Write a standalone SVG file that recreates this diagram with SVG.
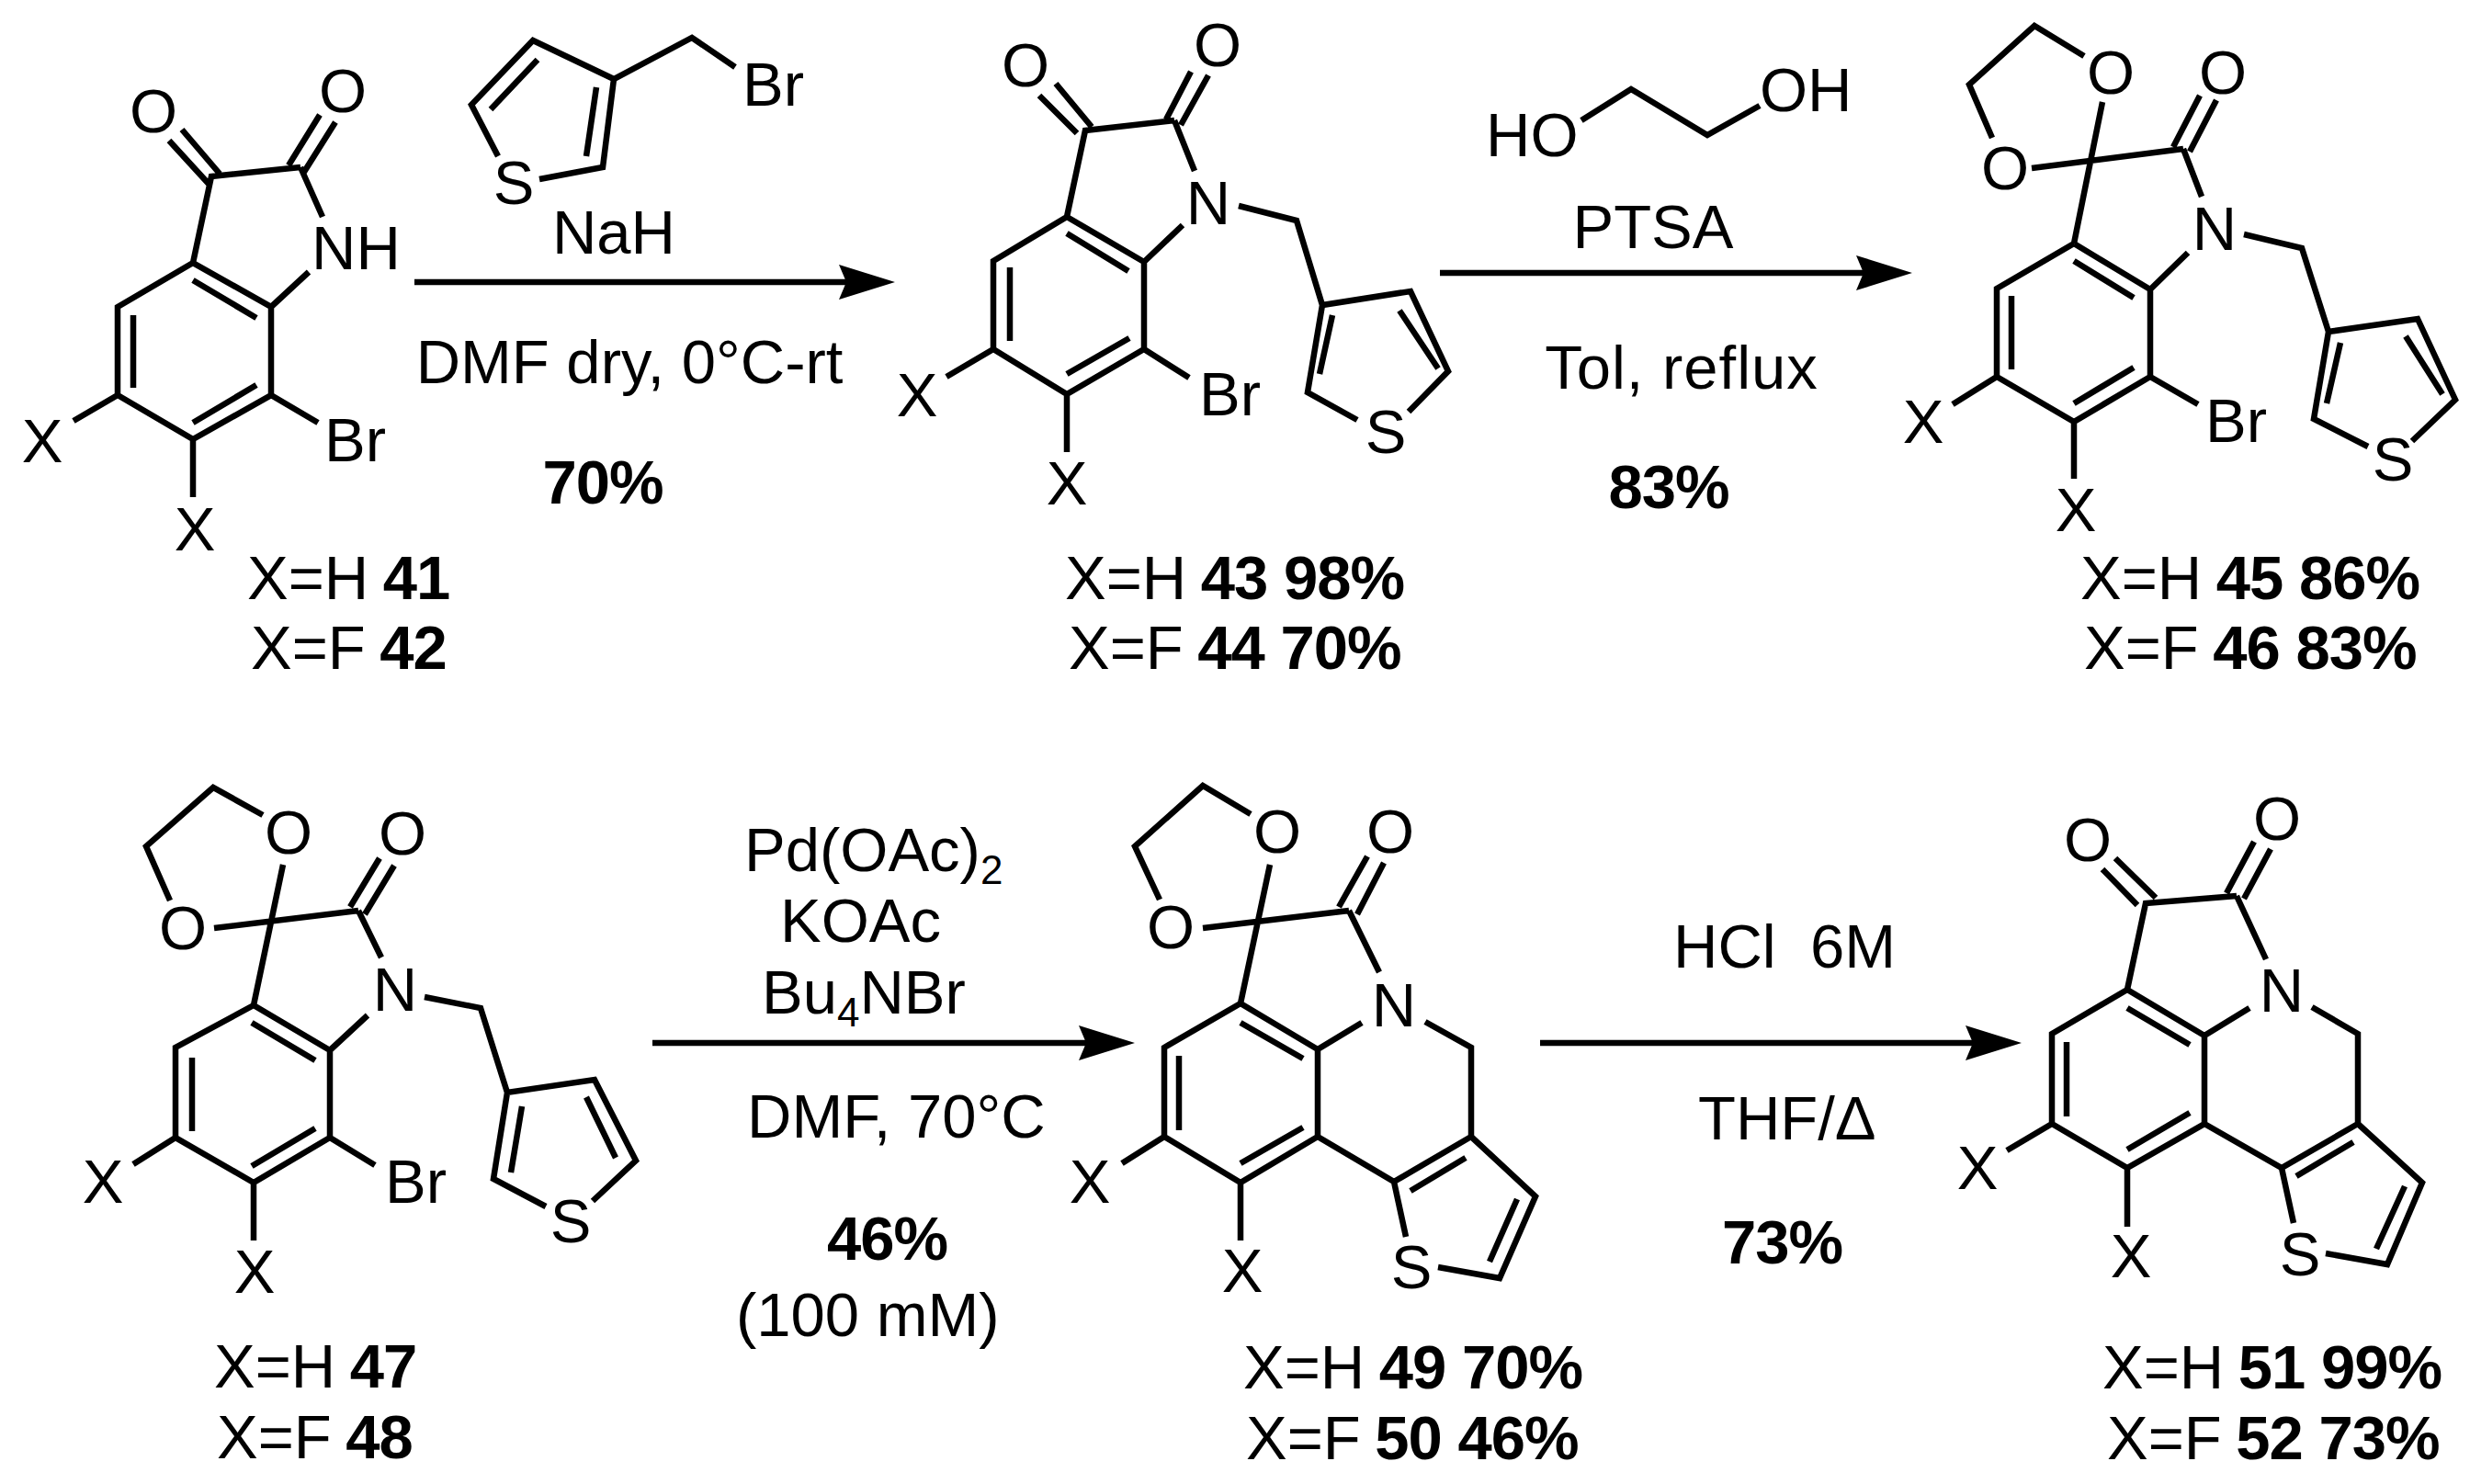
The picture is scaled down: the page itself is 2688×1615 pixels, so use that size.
<svg xmlns="http://www.w3.org/2000/svg" width="2688" height="1615" viewBox="0 0 2688 1615">
<defs>
<style>
text{font-family:"Liberation Sans",Arial,sans-serif;font-size:67px;fill:#000;white-space:pre}
.c{text-anchor:middle}
.bd{font-weight:bold;letter-spacing:-1px}
.b{fill:none;stroke:#000;stroke-width:6.5;stroke-linejoin:miter;stroke-linecap:butt}
.a{stroke:#000;stroke-width:6.5;fill:none;marker-end:url(#ah)}
</style>
<marker id="ah" markerUnits="userSpaceOnUse" markerWidth="62" markerHeight="38" refX="8" refY="19" orient="auto" viewBox="0 0 62 38"><path d="M0 0L61 19L0 38L8 19z" fill="#000"/></marker>
</defs>
<rect width="2688" height="1615" fill="#fff"/>

<g id="connectors">
<line class="a" x1="451" y1="307" x2="921" y2="307"/>
<line class="a" x1="1567" y1="297" x2="2028" y2="297"/>
<line class="a" x1="710" y1="1135" x2="1182" y2="1135"/>
<line class="a" x1="1676" y1="1135" x2="2147" y2="1135"/>
</g>

<g id="mol-41">
<path class="b" d="M184 153L227 200M198 141L239 189M348 125L314 180M365 133L331 187M327 182L230 192L210 286L295 334V430L210 478L128 430V334L210 286M327 182L351 236M295 334L336 296M128 430L80 458M210 478V541M295 430L346 460M210 305L279 346M145 343V422M210 460L279 419"/>
<text class="c" x="167" y="144">O</text>
<text class="c" x="373" y="122">O</text>
<text x="339" y="293">NH</text>
<text x="353" y="502">Br</text>
<text class="c" x="46" y="503">X</text>
<text class="c" x="212" y="599">X</text>
<text x="269" y="652">X=H <tspan class="bd" dx="-3">41</tspan></text>
<text x="273" y="728">X=F <tspan class="bd" dx="-3">42</tspan></text>
</g>

<g id="reagent-bromide">
<path class="b" d="M542 170L513 114L580 44L668 86L753 41L800 73M668 86L656 182L587 195M585 65L534 119M649 95L638 170"/>
<text class="c" x="559" y="222">S</text>
<text x="808" y="115">Br</text>
</g>
<g id="conditions-1">
<text class="c" x="668" y="276">NaH</text>
<text class="c" x="685" y="417">DMF dry, 0°C-rt</text>
<text class="c bd" x="656" y="548">70%</text>
</g>

<g id="mol-43">
<path class="b" d="M1188 138L1149 91M1172 145L1131 104M1269 130L1296 78M1285 136L1315 82M1278 131L1181 142L1161 236L1245 285V380L1161 429L1081 380V284L1161 236M1278 131L1300 186M1245 285L1287 245M1348 224L1411 240L1439 332L1535 317L1576 404L1533 448M1439 332L1423 427L1477 457M1523 338L1565 401M1450 343L1436 407M1161 254L1228 295M1099 291V371M1161 407L1229 368M1081 380L1030 410M1161 429V492M1245 380L1294 411"/>
<text class="c" x="1116" y="94">O</text>
<text class="c" x="1325" y="72">O</text>
<text class="c" x="1315" y="244">N</text>
<text class="c" x="1508" y="493">S</text>
<text x="1305" y="452">Br</text>
<text class="c" x="998" y="453">X</text>
<text class="c" x="1161" y="549">X</text>
<text x="1159" y="652">X=H <tspan class="bd" dx="-3">43 98%</tspan></text>
<text x="1163" y="728">X=F <tspan class="bd" dx="-3">44 70%</tspan></text>
</g>

<g id="reagent-glycol">
<path class="b" d="M1721 131L1775 97L1858 147L1915 115"/>
<text x="1617" y="170">HO</text>
<text x="1915" y="121">OH</text>
</g>
<g id="conditions-2">
<text class="c" x="1799" y="270">PTSA</text>
<text class="c" x="1830" y="423" letter-spacing="1">Tol, reflux</text>
<text class="c bd" x="1816" y="553">83%</text>
</g>

<g id="mol-45">
<path class="b" d="M2268 61L2214 28L2143 92L2168 150M2257 265L2288 111M2211 183L2376 162M2365 160L2394 104M2383 165L2412 109M2376 162L2396 214M2257 265L2340 315V410L2257 459L2173 410V314L2257 265M2340 315L2381 275M2442 255L2505 270L2534 361L2631 347L2672 435L2625 480M2534 361L2518 456L2577 486M2618 366L2658 429M2547 373L2532 439M2257 284L2322 324M2189 322V402M2257 439L2322 400M2173 410L2125 440M2257 459V521M2340 410L2392 440"/>
<text class="c" x="2297" y="102">O</text>
<text class="c" x="2182" y="206">O</text>
<text class="c" x="2419" y="102">O</text>
<text class="c" x="2410" y="272">N</text>
<text class="c" x="2604" y="523">S</text>
<text x="2400" y="481">Br</text>
<text class="c" x="2093" y="482">X</text>
<text class="c" x="2259" y="578">X</text>
<text x="2264" y="652">X=H <tspan class="bd" dx="-3">45 86%</tspan></text>
<text x="2268" y="728">X=F <tspan class="bd" dx="-3">46 83%</tspan></text>
</g>

<g id="mol-47">
<path class="b" d="M286 887L232 857L159 921L185 980M276 1094L308 941M233 1010L390 991M381 987L413 934M397 995L429 942M390 991L415 1042M276 1094L359 1143V1238L276 1287L191 1238V1140L276 1094M359 1143L400 1105M462 1085L523 1097L552 1189L647 1175L692 1263L645 1307M552 1189L537 1283L594 1313M638 1194L670 1260M568 1204L556 1276M274 1113L343 1154M209 1151V1231M274 1269L343 1228M191 1238L145 1267M276 1287V1350M359 1238L408 1268"/>
<text class="c" x="314" y="929">O</text>
<text class="c" x="199" y="1033">O</text>
<text class="c" x="438" y="930">O</text>
<text class="c" x="430" y="1100">N</text>
<text class="c" x="621" y="1352">S</text>
<text x="419" y="1309">Br</text>
<text class="c" x="112" y="1309">X</text>
<text class="c" x="277" y="1407">X</text>
<text x="233" y="1510">X=H <tspan class="bd" dx="-3">47</tspan></text>
<text x="236" y="1587">X=F <tspan class="bd" dx="-3">48</tspan></text>
</g>

<g id="conditions-3">
<text x="810" y="948">Pd(OAc)<tspan font-size="44" dy="14">2</tspan></text>
<text x="849" y="1025">KOAc</text>
<text x="829" y="1103">Bu<tspan font-size="44" dy="14">4</tspan><tspan dy="-14">NBr</tspan></text>
<text x="813" y="1238">DMF, 70°C</text>
<text class="bd" x="900" y="1371">46%</text>
<text x="801" y="1454">(100 mM)</text>
</g>

<g id="mol-49">
<path class="b" d="M1361 886L1309 855L1235 921L1262 979M1350 1092L1382 941M1309 1010L1468 991M1457 987L1488 932M1477 995L1506 939M1468 991L1501 1058M1350 1092L1434 1142V1237L1350 1287L1267 1237V1140L1350 1092M1434 1142L1482 1113M1551 1112L1601 1140V1237L1517 1286L1434 1237M1517 1286L1530 1346M1601 1237L1671 1302L1632 1391L1565 1379M1595 1260L1535 1296M1651 1305L1621 1373M1350 1113L1418 1152M1283 1149V1230M1350 1266L1418 1227M1267 1237L1221 1266M1350 1287V1350"/>
<text class="c" x="1390" y="928">O</text>
<text class="c" x="1274" y="1032">O</text>
<text class="c" x="1513" y="928">O</text>
<text class="c" x="1517" y="1117">N</text>
<text class="c" x="1536" y="1402">S</text>
<text class="c" x="1186" y="1309">X</text>
<text class="c" x="1352" y="1406">X</text>
<text x="1353" y="1511">X=H <tspan class="bd" dx="-3">49 70%</tspan></text>
<text x="1356" y="1588">X=F <tspan class="bd" dx="-3">50 46%</tspan></text>
</g>

<g id="conditions-4">
<text x="1821" y="1053">HCl  6M</text>
<text x="1848" y="1240">THF/Δ</text>
<text class="bd" x="1874" y="1375">73%</text>
</g>

<g id="mol-51">
<path class="b" d="M2346 977L2302 934M2326 985L2288 946M2423 972L2453 916M2442 978L2471 924M2434 975L2335 983L2315 1077L2399 1127V1223L2315 1271L2233 1223V1125L2315 1077M2434 975L2466 1044M2399 1127L2448 1097M2516 1096L2566 1125V1223L2483 1271L2399 1223M2483 1271L2496 1331M2566 1223L2636 1287L2598 1376L2531 1364M2561 1243L2499 1280M2617 1291L2586 1359M2315 1097L2383 1137M2249 1134V1215M2315 1251L2383 1211M2233 1223L2184 1252M2315 1271V1335"/>
<text class="c" x="2272" y="937">O</text>
<text class="c" x="2478" y="914">O</text>
<text class="c" x="2483" y="1101">N</text>
<text class="c" x="2503" y="1388">S</text>
<text class="c" x="2152" y="1294">X</text>
<text class="c" x="2319" y="1390">X</text>
<text x="2288" y="1511">X=H <tspan class="bd" dx="-3">51 99%</tspan></text>
<text x="2293" y="1588">X=F <tspan class="bd" dx="-3">52 73%</tspan></text>
</g>
</svg>
